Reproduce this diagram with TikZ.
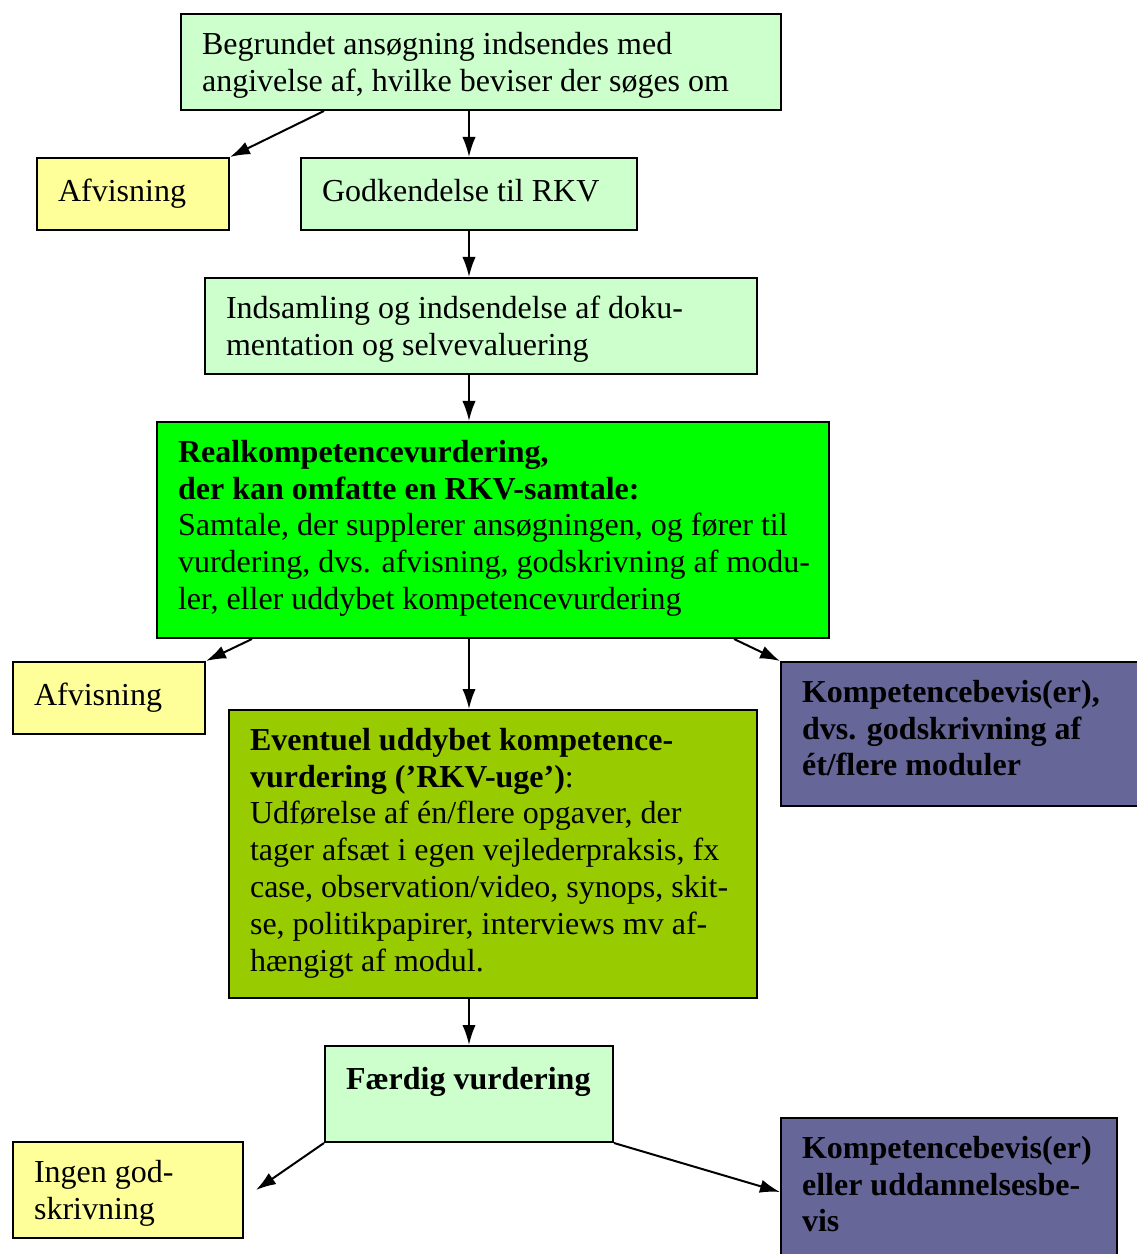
\documentclass[tikz,border=0pt]{standalone}
\usepackage{fontspec}
\setmainfont{Liberation Serif}
\usetikzlibrary{arrows.meta,fit}

\definecolor{paleGreen}{HTML}{CCFFCC}
\definecolor{paleYellow}{HTML}{FFFF99}
\definecolor{rkvGreen}{HTML}{00FF00}
\definecolor{ugeGreen}{HTML}{99CC00}
\definecolor{bevisBlue}{HTML}{666699}

\begin{document}
\begin{tikzpicture}[x=0.375pt,y=-0.375pt,>={Latex[length=7.5pt,width=5pt]},line width=0.75pt,
    every node/.style={inner sep=0pt,font=\fontsize{12}{13.8}\selectfont},
    box/.style={draw,rectangle},
    txt/.style={align=left,anchor=north west,execute at begin node=\strut,xshift=7.9pt,yshift=-6.8pt}]
    \useasboundingbox (0,0) rectangle (1136,1254);
    % create the boxes
    \node (req)[box, fill=paleGreen, fit={(181,14) (781,110)}] {};
    \node (afv1)[box, fill=paleYellow, fit={(37,158) (229,230)}] {};
    \node (godk)[box, fill=paleGreen, fit={(301,158) (637,230)}] {};
    \node (indsaml)[box, fill=paleGreen, fit={(205,278) (757,374)}] {};
    \node (real)[box, fill=rkvGreen, fit={(157,422) (829,638)}] {};
    \node (afv2)[box, fill=paleYellow, fit={(13,662) (205,734)}] {};
    \node (bevis1)[box, fill=bevisBlue, fit={(781,662) (1140,806)}] {};
    \node (uge)[box, fill=ugeGreen, fit={(229,710) (757,998)}] {};
    \node (faerdig)[box, fill=paleGreen, fit={(325,1046) (613,1142)}] {};
    \node (ingen)[box, fill=paleYellow, fit={(13,1142) (243,1238)}] {};
    \node (bevis2)[box, fill=bevisBlue, fit={(781,1118) (1117,1266)}] {};
    % the texts
    \node (reqtext)[txt] at (req.north west) {Begrundet ansøgning indsendes med\\angivelse af, hvilke beviser der søges om};
    \node (afv1text)[txt] at (afv1.north west) {Afvisning};
    \node (godktext)[txt] at (godk.north west) {Godkendelse til RKV};
    \node (indsamltext)[txt] at (indsaml.north west) {Indsamling og indsendelse af doku-\\mentation og selvevaluering};
    \node (realtext)[txt] at (real.north west) {\textbf{Realkompetencevurdering,}\\\textbf{der kan omfatte en RKV-samtale:}\\Samtale, der supplerer ansøgningen, og fører til\\vurdering, dvs. afvisning, godskrivning af modu-\\ler, eller uddybet kompetencevurdering};
    \node (afv2text)[txt] at (afv2.north west) {Afvisning};
    \node (bevis1text)[txt] at (bevis1.north west) {\textbf{Kompetencebevis(er),}\\\textbf{dvs. godskrivning af}\\\textbf{ét/flere moduler}};
    \node (ugetext)[txt] at (uge.north west) {\textbf{Eventuel uddybet kompetence-}\\\textbf{vurdering (’RKV-uge’)}:\\Udførelse af én/flere opgaver, der\\tager afsæt i egen vejlederpraksis, fx\\case, observation/video, synops, skit-\\se, politikpapirer, interviews mv af-\\hængigt af modul.};
    \node (faerdigtext)[txt] at (faerdig.north west) {\textbf{Færdig vurdering}};
    \node (ingentext)[txt] at (ingen.north west) {Ingen god-\\skrivning};
    \node (bevis2text)[txt] at (bevis2.north west) {\textbf{Kompetencebevis(er)}\\\textbf{eller uddannelsesbe-}\\\textbf{vis}};
    % connect the boxes
    \draw[->] ([xshift=54pt]req.south west) to (afv1.north east);
    \draw[->] (req.south -| godk.north) to (godk.north);
    \draw[->] (godk.south) to (indsaml.north -| godk.south);
    \draw[->] (indsaml.south -| godk.south) to (real.north -| godk.south);
    \draw[->] ([xshift=36pt]real.south west) to (afv2.north east);
    \draw[->] (real.south -| godk.south) to (uge.north -| godk.south);
    \draw[->] ([xshift=-36pt]real.south east) to (bevis1.north west);
    \draw[->] (uge.south -| faerdig.north) to (faerdig.north);
    \draw[->] (faerdig.south west) to ([xshift=4.5pt]ingen.east);
    \draw[->] (faerdig.south east) to (bevis2.west);
\end{tikzpicture}
\end{document}
